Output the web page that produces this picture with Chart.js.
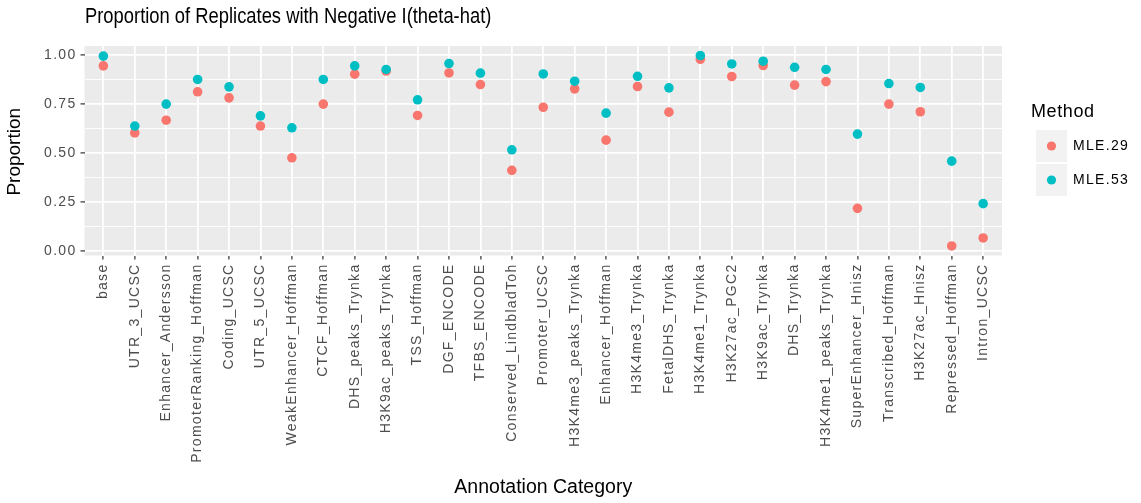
<!DOCTYPE html>
<html>
<head>
<meta charset="utf-8">
<script src="https://cdn.jsdelivr.net/npm/chart.js@4/dist/chart.umd.min.js"></script>
<style>
  html, body { margin: 0; padding: 0; background: #ffffff; }
  #wrap { width: 1141px; height: 503px; }
</style>
</head>
<body>
<div id="wrap"><canvas id="chart" width="1141" height="503"></canvas></div>
<script>
// Annotation categories along the x axis
const categories = [
  'base', 'UTR_3_UCSC', 'Enhancer_Andersson', 'PromoterRanking_Hoffman', 'Coding_UCSC',
  'UTR_5_UCSC', 'WeakEnhancer_Hoffman', 'CTCF_Hoffman', 'DHS_peaks_Trynka', 'H3K9ac_peaks_Trynka',
  'TSS_Hoffman', 'DGF_ENCODE', 'TFBS_ENCODE', 'Conserved_LindbladToh', 'Promoter_UCSC',
  'H3K4me3_peaks_Trynka', 'Enhancer_Hoffman', 'H3K4me3_Trynka', 'FetalDHS_Trynka', 'H3K4me1_Trynka',
  'H3K27ac_PGC2', 'H3K9ac_Trynka', 'DHS_Trynka', 'H3K4me1_peaks_Trynka', 'SuperEnhancer_Hnisz',
  'Transcribed_Hoffman', 'H3K27ac_Hnisz', 'Repressed_Hoffman', 'Intron_UCSC'
];

// Proportion of replicates with negative I(theta-hat), per method
const mle29 = [
  0.943, 0.601, 0.666, 0.811, 0.780, 0.636, 0.474, 0.748, 0.901, 0.917,
  0.690, 0.907, 0.848, 0.410, 0.732, 0.826, 0.564, 0.838, 0.707, 0.977,
  0.889, 0.945, 0.845, 0.863, 0.216, 0.748, 0.709, 0.024, 0.065
];
const mle53 = [
  0.993, 0.636, 0.748, 0.874, 0.836, 0.688, 0.627, 0.874, 0.943, 0.925,
  0.770, 0.955, 0.906, 0.515, 0.902, 0.865, 0.702, 0.890, 0.831, 0.996,
  0.953, 0.967, 0.936, 0.925, 0.595, 0.853, 0.833, 0.457, 0.240
];

// Axis breaks
const yMajorTicks = [0, 0.25, 0.5, 0.75, 1];
const yMinorTicks = [0.125, 0.375, 0.625, 0.875];

const seriesNames = ['MLE.29', 'MLE.53'];
const seriesColors = ['#F8766D', '#00BFC4'];
const seriesValues = [mle29, mle53];

const FONT = "'Liberation Sans', Arial, Helvetica, sans-serif";
const TICK_SPACING = '1.3px';
const TICK_SIZE = 14;

const isMajor = v => yMajorTicks.some(m => Math.abs(m - v) < 1e-9);

// Grey panel, titles and the method legend
const panelPlugin = {
  id: 'panel',
  beforeDraw(chart) {
    const { ctx, chartArea: a } = chart;
    ctx.save();
    ctx.fillStyle = '#EBEBEB';
    ctx.fillRect(a.left, a.top, a.right - a.left, a.bottom - a.top);
    ctx.restore();
    ctx.letterSpacing = TICK_SPACING;
  },
  afterDraw(chart) {
    const { ctx, chartArea: a } = chart;
    ctx.letterSpacing = '0px';

    // Plot title (set in a narrow face)
    ctx.save();
    ctx.fillStyle = '#000000';
    ctx.font = `22px ${FONT}`;
    ctx.textAlign = 'left';
    ctx.textBaseline = 'middle';
    ctx.translate(85, 17);
    ctx.scale(0.835, 1);
    ctx.fillText('Proportion of Replicates with Negative I(theta-hat)', 0, 0);
    ctx.restore();

    // Axis titles
    ctx.save();
    ctx.fillStyle = '#000000';
    ctx.font = `19.5px ${FONT}`;
    ctx.textAlign = 'center';
    ctx.textBaseline = 'middle';
    ctx.fillText('Annotation Category', (a.left + a.right) / 2, 488);
    ctx.translate(15, (a.top + a.bottom) / 2 + 1);
    ctx.rotate(-Math.PI / 2);
    ctx.font = `19px ${FONT}`;
    ctx.fillText('Proportion', 0, 0);
    ctx.restore();

    // Legend
    ctx.save();
    ctx.textAlign = 'left';
    ctx.textBaseline = 'middle';
    ctx.fillStyle = '#000000';
    ctx.font = `18px ${FONT}`;
    ctx.letterSpacing = '0.6px';
    ctx.fillText('Method', 1031, 112);
    ctx.font = `${TICK_SIZE}px ${FONT}`;
    ctx.letterSpacing = TICK_SPACING;
    seriesNames.forEach((name, i) => {
      const y0 = 130 + i * 34;
      ctx.fillStyle = '#F2F2F2';
      ctx.fillRect(1036, y0, 31, 32);
      ctx.beginPath();
      ctx.arc(1051.5, y0 + 16, 4.6, 0, Math.PI * 2);
      ctx.fillStyle = seriesColors[i];
      ctx.fill();
      ctx.fillStyle = '#000000';
      ctx.fillText(name, 1073, y0 + 16.5);
    });
    ctx.restore();
  }
};

const datasets = seriesNames.map((name, s) => ({
  label: name,
  data: seriesValues[s].map((v, i) => ({ x: i, y: v })),
  backgroundColor: seriesColors[s],
  pointBackgroundColor: seriesColors[s],
  pointBorderWidth: 0,
  pointRadius: 4.8,
  pointHoverRadius: 4.8,
  showLine: false,
  order: 2 - s
}));

new Chart(document.getElementById('chart'), {
  type: 'scatter',
  data: { datasets },
  plugins: [panelPlugin],
  options: {
    responsive: false,
    animation: false,
    events: [],
    layout: { padding: { top: 46, right: 139, bottom: 0, left: 0 } },
    plugins: {
      legend: { display: false },
      title: { display: false },
      tooltip: { enabled: false }
    },
    scales: {
      x: {
        type: 'linear',
        min: -0.6,
        max: categories.length - 1 + 0.6,
        afterBuildTicks(scale) {
          scale.ticks = categories.map((c, i) => ({ value: i }));
        },
        afterFit(scale) { scale.height = 247.5; },
        border: { display: false },
        grid: {
          color: '#FFFFFF',
          lineWidth: 1.8,
          drawTicks: true,
          tickLength: 4,
          tickColor: '#333333',
          tickWidth: 1.2
        },
        ticks: {
          autoSkip: false,
          minRotation: 90,
          maxRotation: 90,
          padding: 4,
          color: '#4D4D4D',
          font: { family: FONT, size: TICK_SIZE },
          callback: v => categories[v] ?? ''
        },
        title: { display: false }
      },
      y: {
        min: -0.0246,
        max: 1.0446,
        afterBuildTicks(scale) {
          scale.ticks = yMajorTicks.concat(yMinorTicks)
            .sort((a, b) => a - b)
            .map(v => ({ value: v }));
        },
        afterFit(scale) { scale.width = 84.5; },
        border: { display: false },
        grid: {
          color: '#FFFFFF',
          lineWidth: ctx => isMajor(ctx.tick.value) ? 1.8 : 0.9,
          drawTicks: true,
          tickLength: 4,
          tickColor: ctx => isMajor(ctx.tick.value) ? '#333333' : 'rgba(0,0,0,0)',
          tickWidth: 1.2
        },
        ticks: {
          autoSkip: false,
          padding: 4,
          color: '#4D4D4D',
          font: { family: FONT, size: TICK_SIZE },
          callback: v => isMajor(v) ? v.toFixed(2) : ''
        },
        title: { display: false }
      }
    }
  }
});
</script>
</body>
</html>
